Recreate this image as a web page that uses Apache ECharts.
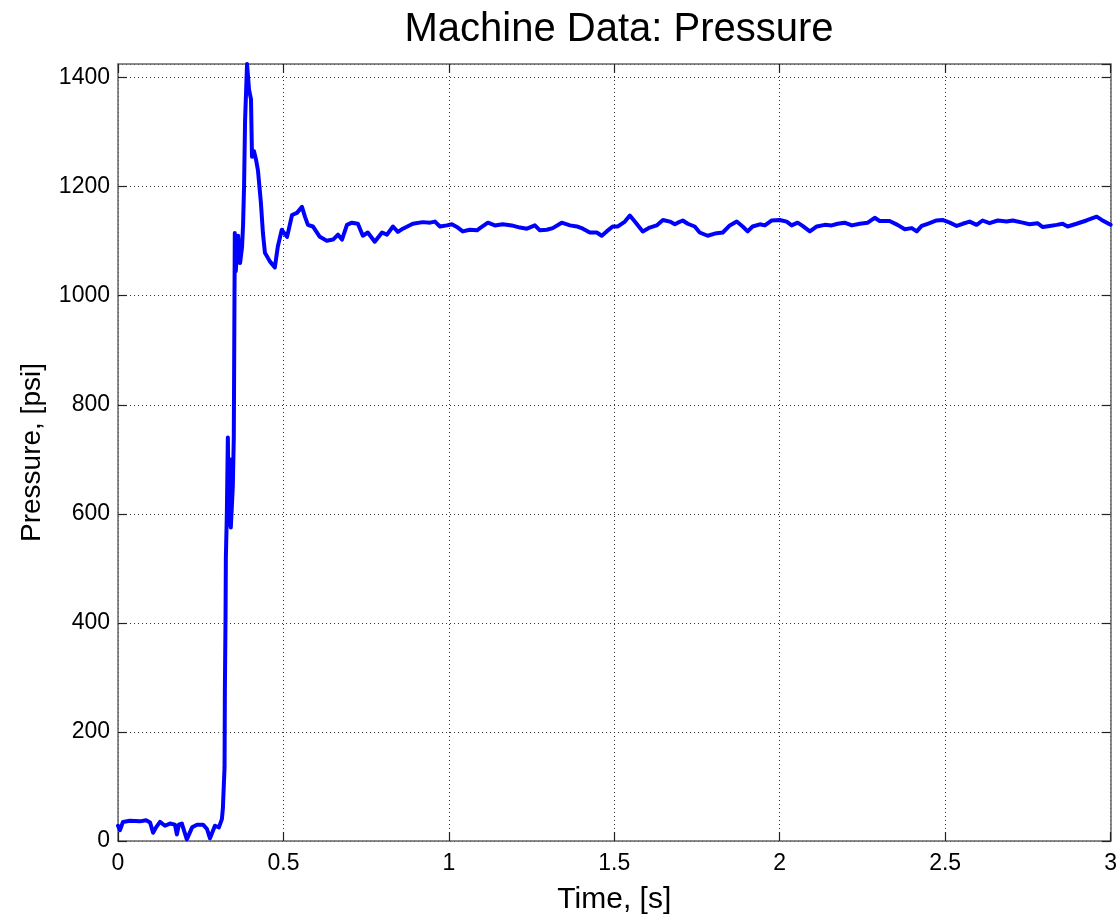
<!DOCTYPE html>
<html>
<head>
<meta charset="utf-8">
<title>Machine Data: Pressure</title>
<script src="https://cdn.jsdelivr.net/npm/echarts@6/dist/echarts.min.js"></script>
<style>
  html, body { margin: 0; padding: 0; background: #fff; }
  #chart { width: 1120px; height: 920px; }
</style>
</head>
<body>
<div id="chart"></div>
<script>
// Sample times, seconds
const timeS = [
  0.000, 0.006, 0.015, 0.036, 0.066, 0.085, 0.097, 0.106, 0.115, 0.127,
  0.142, 0.157, 0.172, 0.178, 0.184, 0.193, 0.208, 0.224, 0.239, 0.257,
  0.269, 0.278, 0.293, 0.305, 0.314, 0.317, 0.322, 0.323, 0.325, 0.326,
  0.329, 0.332, 0.335, 0.338, 0.341, 0.347, 0.350, 0.353, 0.356, 0.363,
  0.369, 0.375, 0.378, 0.381, 0.384, 0.390, 0.396, 0.402, 0.405, 0.411,
  0.417, 0.423, 0.432, 0.438, 0.444, 0.459, 0.474, 0.483, 0.495, 0.502,
  0.511, 0.526, 0.541, 0.556, 0.565, 0.574, 0.589, 0.610, 0.631, 0.650,
  0.665, 0.677, 0.692, 0.707, 0.725, 0.740, 0.755, 0.776, 0.798, 0.813,
  0.831, 0.846, 0.861, 0.891, 0.921, 0.943, 0.958, 0.973, 0.994, 1.009,
  1.027, 1.042, 1.063, 1.085, 1.094, 1.118, 1.139, 1.163, 1.190, 1.215,
  1.236, 1.260, 1.275, 1.296, 1.314, 1.341, 1.366, 1.387, 1.405, 1.426,
  1.447, 1.462, 1.477, 1.495, 1.511, 1.532, 1.547, 1.562, 1.586, 1.607,
  1.628, 1.647, 1.668, 1.683, 1.692, 1.707, 1.722, 1.743, 1.758, 1.782,
  1.804, 1.828, 1.849, 1.870, 1.888, 1.903, 1.918, 1.940, 1.955, 1.976,
  2.000, 2.021, 2.036, 2.054, 2.069, 2.091, 2.112, 2.136, 2.157, 2.175,
  2.196, 2.218, 2.242, 2.266, 2.287, 2.302, 2.332, 2.356, 2.378, 2.399,
  2.414, 2.429, 2.447, 2.474, 2.492, 2.514, 2.535, 2.553, 2.574, 2.595,
  2.613, 2.634, 2.659, 2.686, 2.704, 2.734, 2.755, 2.779, 2.795, 2.816,
  2.837, 2.855, 2.870, 2.897, 2.927, 2.958, 2.973, 3.000
];

// Measured pressure, psi
const pressurePsi = [
    28,   20,   35,   37,   36,   38,   34,   15,   25,   35,
    28,   32,   30,   12,   30,   32,    3,   25,   30,   30,
    22,    5,   28,   25,   40,   60,  135,  275,  410,  520,
   600,  740,  580,  700,  575,  650,  740, 1115, 1045, 1110,
  1060, 1090, 1130, 1200, 1320, 1425, 1378, 1360, 1255, 1265,
  1250, 1230, 1170, 1115, 1079, 1063, 1052, 1090, 1121, 1115,
  1108, 1148, 1152, 1163, 1145, 1130, 1127, 1108, 1101, 1103,
  1112, 1103, 1130, 1134, 1132, 1110, 1116, 1099, 1116, 1112,
  1127, 1117, 1123, 1132, 1135, 1134, 1136, 1127, 1129, 1131,
  1125, 1118, 1121, 1120, 1124, 1134, 1129, 1131, 1129, 1125,
  1123, 1129, 1120, 1121, 1124, 1134, 1129, 1127, 1123, 1116,
  1116, 1110, 1118, 1127, 1127, 1136, 1147, 1136, 1118, 1125,
  1129, 1139, 1136, 1131, 1134, 1138, 1132, 1127, 1116, 1110,
  1114, 1116, 1129, 1136, 1127, 1118, 1127, 1131, 1129, 1138,
  1139, 1136, 1129, 1134, 1128, 1118, 1127, 1130, 1129, 1132,
  1134, 1129, 1132, 1134, 1143, 1137, 1137, 1130, 1122, 1124,
  1118, 1128, 1132, 1138, 1139, 1134, 1128, 1132, 1136, 1130,
  1138, 1133, 1138, 1136, 1138, 1134, 1131, 1133, 1126, 1128,
  1130, 1132, 1127, 1132, 1138, 1145, 1139, 1130
];

// Axis ranges and tick spacing
const xRange = [0, 3];
const xStep = 0.5;
const yRange = [0, 1425];
const yStep = 200;

const chartTitle = 'Machine Data: Pressure';
const xName = 'Time, [s]';
const yName = 'Pressure, [psi]';

const series = timeS.map((t, i) => [t, pressurePsi[i]]);

const FONT = '"Liberation Sans", Arial, Helvetica, sans-serif';
const frameLine = { show: true, onZero: false, lineStyle: { color: '#666', width: 1.5 } };
const innerTick = { show: true, inside: true, length: 9, lineStyle: { color: '#222', width: 1.2 } };
const gridLine = { show: true, lineStyle: { color: '#333', width: 1, type: [1, 3] } };
const plainNumber = v => String(v);

const chart = echarts.init(document.getElementById('chart'), null, { renderer: 'canvas' });

chart.setOption({
  backgroundColor: '#ffffff',
  animation: false,
  title: {
    text: chartTitle,
    left: 614,
    top: 5,
    textAlign: 'center',
    textStyle: { fontFamily: FONT, fontSize: 40, fontWeight: 'normal', color: '#000' }
  },
  grid: { left: 118, right: 9, top: 64, bottom: 75, containLabel: false },
  xAxis: [
    {
      type: 'value', min: xRange[0], max: xRange[1], interval: xStep,
      position: 'bottom',
      name: xName, nameLocation: 'middle', nameGap: 44,
      nameTextStyle: { fontFamily: FONT, fontSize: 30, color: '#000' },
      axisLine: frameLine, axisTick: innerTick, splitLine: gridLine,
      axisLabel: { fontFamily: FONT, fontSize: 23, color: '#000', margin: 11, formatter: plainNumber }
    },
    {
      type: 'value', min: xRange[0], max: xRange[1], interval: xStep,
      position: 'top',
      axisLine: frameLine, axisTick: innerTick, splitLine: { show: false },
      axisLabel: { show: false }
    }
  ],
  yAxis: [
    {
      type: 'value', min: yRange[0], max: yRange[1], interval: yStep,
      position: 'left',
      name: yName, nameLocation: 'middle', nameGap: 72, nameRotate: 90,
      nameTextStyle: { fontFamily: FONT, fontSize: 28, color: '#000' },
      axisLine: frameLine, axisTick: innerTick, splitLine: gridLine,
      axisLabel: { fontFamily: FONT, fontSize: 23, color: '#000', margin: 8, showMaxLabel: false, formatter: plainNumber }
    },
    {
      type: 'value', min: yRange[0], max: yRange[1], interval: yStep,
      position: 'right',
      axisLine: frameLine, axisTick: innerTick, splitLine: { show: false },
      axisLabel: { show: false }
    }
  ],
  series: [
    {
      type: 'line',
      data: series,
      xAxisIndex: 0,
      yAxisIndex: 0,
      showSymbol: false,
      symbol: 'none',
      smooth: false,
      clip: true,
      lineStyle: { color: '#0000ff', width: 4, join: 'round', cap: 'round' }
    }
  ]
});
</script>
</body>
</html>
